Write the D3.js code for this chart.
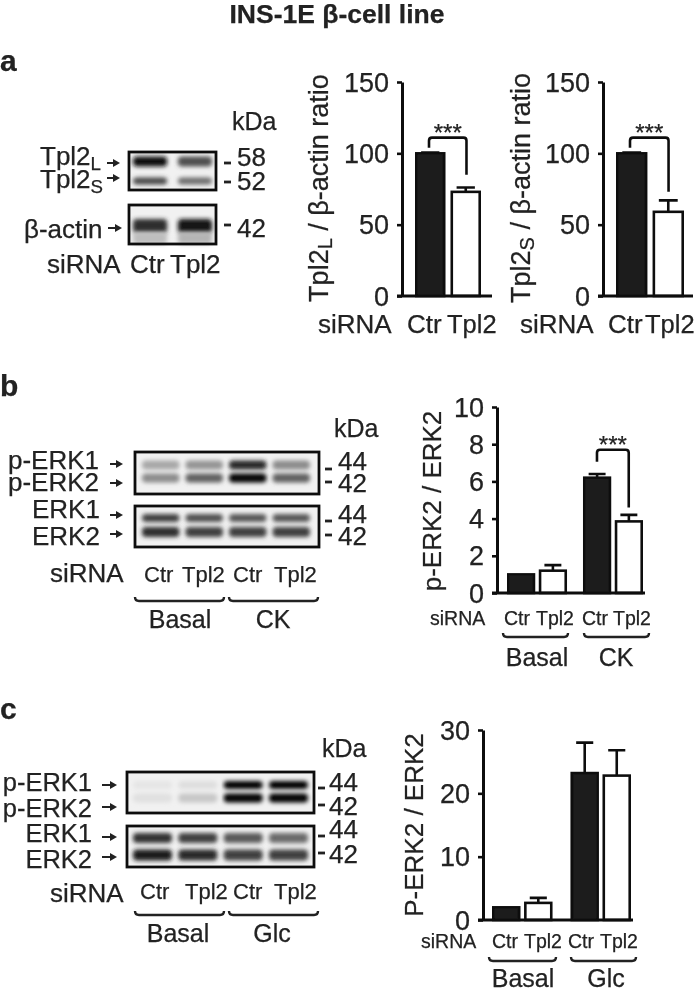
<!DOCTYPE html>
<html>
<head>
<meta charset="utf-8">
<script src="https://d3js.org/d3.v7.min.js"></script>
<style>
  body { margin: 0; background: #fff; }
  text { font-family: "Liberation Sans", Arial, sans-serif; fill: #222; stroke: #222; stroke-width: 0.25px; }
</style>
</head>
<body>
<div id="chart-container"></div>
<script>
// Bar chart data
const singleCats = ["Ctr", "Tpl2"];
const groupCats = ["Ctr", "Tpl2"];
const groupsB = ["Basal", "CK"];
const groupsC = ["Basal", "Glc"];
const tpl2LValues = [100, 73];
const tpl2LErrors = [0.6, 3];
const tpl2SValues = [100, 59];
const tpl2SErrors = [0.6, 8];
const perkCkValues = [[1, 1.2], [6.2, 3.85]];
const perkCkErrors = [[0, 0.3], [0.2, 0.35]];
const perkGlcValues = [[2, 2.7], [23.2, 22.8]];
const perkGlcErrors = [[0, 0.8], [4.8, 4]];
const ticksA = [0, 50, 100, 150];
const ticksB = [0, 2, 4, 6, 8, 10];
const ticksC = [0, 10, 20, 30];

// Blot band intensities (0-1), one row per band, one column per lane
const tpl2Lanes = ["Ctr", "Tpl2"];
const blotLanes = ["Ctr1", "Tpl21", "Ctr2", "Tpl22"];
const tpl2Bands = [[0.95, 0.68], [0.72, 0.55]];
const actinBands = [[0.82, 0.92], [0.2, 0.24]];
const pErkCkBands = [[0.3, 0.38, 0.85, 0.42], [0.42, 0.6, 1, 0.6]];
const erkCkBands = [[0.75, 0.68, 0.65, 0.65], [0.82, 0.75, 0.75, 0.75]];
const pErkGlcBands = [[0.03, 0.06, 1, 1], [0.05, 0.16, 1, 1]];
const erkGlcBands = [[0.8, 0.74, 0.64, 0.56], [0.9, 0.84, 0.75, 0.75]];

const svg = d3.select("#chart-container").append("svg")
  .attr("width", 696).attr("height", 993);

const defs = svg.append("defs");
defs.append("filter").attr("id", "soft").attr("x", 0).attr("y", 0).attr("width", 1).attr("height", 1)
  .append("feGaussianBlur").attr("stdDeviation", 0.6);
defs.append("filter").attr("id", "bandblur").attr("x", "-30%").attr("y", "-80%").attr("width", "160%").attr("height", "260%")
  .append("feGaussianBlur").attr("stdDeviation", 2.1);

const root = svg.append("g").attr("filter", "url(#soft)");
root.append("rect").attr("width", 696).attr("height", 993).attr("fill", "#fff");

function label(x, y, str, size, anchor, weight) {
  return root.append("text").attr("x", x).attr("y", y)
    .attr("text-anchor", anchor || "start")
    .attr("font-weight", weight || "normal")
    .style("font-size", size + "px").text(str);
}

// label with a subscript, e.g. Tpl2 + L
function subLabel(x, y, main, sub, size) {
  const t = root.append("text").attr("x", x).attr("y", y).style("font-size", size + "px");
  t.append("tspan").text(main);
  t.append("tspan").attr("dy", 5).style("font-size", (size * 0.72) + "px").text(sub);
  return t;
}

function arrow(x0, x1, y) {
  root.append("path")
    .attr("d", `M${x0},${y}H${x1 - 5}`)
    .attr("stroke", "#222").attr("stroke-width", 2).attr("fill", "none");
  root.append("path")
    .attr("d", `M${x1},${y}L${x1 - 7},${y - 4}V${y + 4}Z`).attr("fill", "#222");
}

function dash(x0, x1, y) {
  root.append("path").attr("d", `M${x0},${y}H${x1}`)
    .attr("stroke", "#222").attr("stroke-width", 2.8);
}

// curly-ish group brace under lane labels
function brace(x0, x1, y) {
  root.append("path")
    .attr("d", `M${x0},${y - 4}Q${x0},${y} ${x0 + 4},${y}H${x1 - 4}Q${x1},${y} ${x1},${y - 4}`)
    .attr("fill", "none").attr("stroke", "#222").attr("stroke-width", 2.4);
}

// Western blot panel: blurred bands inside a black frame
function blot(box, lanes, laneRange, kDa, kDaRange, rows, bandHeight) {
  const g = root.append("g");
  g.append("rect").attr("x", box[0]).attr("y", box[1])
    .attr("width", box[2] - box[0]).attr("height", box[3] - box[1]).attr("fill", "#f1f1f1");
  const x = d3.scaleBand().domain(lanes).range(laneRange).paddingInner(lanes.length === 2 ? 0.24 : 0.14);
  const y = d3.scaleLinear().domain(kDa).range(kDaRange);
  const shade = d3.scaleLinear().domain([0, 1]).range(["#ececec", "#050505"]);
  rows.forEach((row, r) => {
    g.append("g").attr("filter", "url(#bandblur)").selectAll("rect")
      .data(row).enter().append("rect")
      .attr("x", (d, i) => x(lanes[i]))
      .attr("width", x.bandwidth())
      .attr("y", y(kDa[r]) - bandHeight[r] / 2)
      .attr("height", bandHeight[r])
      .attr("rx", 4)
      .attr("fill", d => shade(d));
  });
  g.append("rect").attr("x", box[0]).attr("y", box[1])
    .attr("width", box[2] - box[0]).attr("height", box[3] - box[1])
    .attr("fill", "none").attr("stroke", "#111").attr("stroke-width", 2.8);
}

function yAxis(x0, yScale, ticks, endX, size) {
  const ax = root.append("g").attr("transform", `translate(${x0},0)`)
    .call(d3.axisLeft(yScale).tickValues(ticks).tickSize(5).tickSizeOuter(0).tickPadding(8));
  ax.select(".domain").attr("stroke", "#111").attr("stroke-width", 3);
  ax.selectAll(".tick line").attr("stroke", "#111").attr("stroke-width", 2.6);
  ax.selectAll(".tick text").style("font-size", size + "px").attr("dy", "0.34em");
  root.append("path").attr("d", `M${x0 - 5},${yScale(0)}H${endX}`)
    .attr("stroke", "#111").attr("stroke-width", 3);
}

function bar(xPos, width, value, err, yScale, fill) {
  const cx = xPos + width / 2;
  const capW = width * 0.3;
  if (err > 0) {
    root.append("path")
      .attr("d", `M${cx},${yScale(value)}V${yScale(value + err)}M${cx - capW},${yScale(value + err)}H${cx + capW}`)
      .attr("stroke", "#111").attr("stroke-width", 2.6).attr("fill", "none");
  }
  root.append("rect")
    .attr("x", xPos + 1.3).attr("width", width - 2.6)
    .attr("y", yScale(value)).attr("height", yScale(0) - yScale(value))
    .attr("fill", fill).attr("stroke", "#111").attr("stroke-width", 2.6);
}

function sigBracket(x0, x1, yTop, yLeft, yRight) {
  root.append("path")
    .attr("d", `M${x0},${yLeft}V${yTop + 3}Q${x0},${yTop} ${x0 + 3},${yTop}H${x1 - 3}Q${x1},${yTop} ${x1},${yTop + 3}V${yRight}`)
    .attr("fill", "none").attr("stroke", "#111").attr("stroke-width", 2.6);
  label((x0 + x1) / 2, yTop + 3, "***", 24, "middle");
}

// ---- title and panel letters
label(337, 23, "INS-1E β-cell line", 26.5, "middle", "bold");
label(0, 71, "a", 30, "start", "bold");
label(0, 396, "b", 30, "start", "bold");
label(0, 719, "c", 30, "start", "bold");

// ---- panel a, blots
label(232, 130, "kDa", 25);
blot([129, 152, 216, 190], tpl2Lanes, [133, 212], [58, 52], [161.5, 181], tpl2Bands, [10, 7]);
blot([129, 205, 216, 244], tpl2Lanes, [133, 212], [42, 38], [226, 238], actinBands, [14, 12]);
subLabel(40, 165, "Tpl2", "L", 26);
subLabel(40, 188, "Tpl2", "S", 26);
arrow(107, 120, 163);
arrow(107, 120, 178);
label(24, 238, "β-actin", 26);
arrow(108, 122, 228);
label(47, 273, "siRNA", 26);
label(130, 273, "Ctr", 26);
label(170, 273, "Tpl2", 26);
dash(224, 231, 163); dash(224, 231, 182); dash(224, 231, 225);
label(237, 166, "58", 26); label(237, 190, "52", 26); label(237, 237, "42", 26);

// ---- panel a, bar charts
function singleChart(axisX, x0, x1, endX, values, errors, titleX, subLetter, bracketVals, labelX, tplX) {
  const y = d3.scaleLinear().domain([0, 150]).range([296, 82]);
  const x = d3.scaleBand().domain(singleCats).range([x0, x1]).paddingInner(0.14);
  values.forEach((v, i) => bar(x(singleCats[i]), x.bandwidth(), v, errors[i], y, i === 0 ? "#1a1a1a" : "#fff"));
  yAxis(axisX, y, ticksA, endX, 27);
  sigBracket(x(singleCats[0]) + 14, x(singleCats[1]) + 16, y(bracketVals[0]), y(bracketVals[1]), y(bracketVals[2]));
  const t = root.append("text").attr("transform", `translate(${titleX},188) rotate(-90)`)
    .attr("text-anchor", "middle").style("font-size", "27px");
  t.append("tspan").text("Tpl2");
  t.append("tspan").attr("dy", 4).style("font-size", "20px").text(subLetter);
  t.append("tspan").attr("dy", -4).text(" / β-actin ratio");
  label(labelX, 333, "siRNA", 26);
  label(x(singleCats[0]) - 8, 333, "Ctr", 26);
  label(tplX, 333, "Tpl2", 25.5);
}
singleChart(402, 415, 481, 492, tpl2LValues, tpl2LErrors, 328, "L", [111, 104, 85], 318, 447);
singleChart(603, 616, 684, 693, tpl2SValues, tpl2SErrors, 530, "S", [111, 104, 73], 520, 645);

// ---- panels b and c, grouped bar charts
function groupChart(opts) {
  const y = d3.scaleLinear().domain(opts.domain).range(opts.yRange);
  const outer = d3.scaleBand().domain(opts.groups).range(opts.xRange).paddingInner(opts.gap);
  const inner = d3.scaleBand().domain(groupCats).range([0, outer.bandwidth()]).paddingInner(0.11);
  opts.groups.forEach((g, gi) => {
    groupCats.forEach((c, ci) => {
      bar(outer(g) + inner(c), inner.bandwidth(), opts.values[gi][ci], opts.errors[gi][ci], y, ci === 0 ? "#1a1a1a" : "#fff");
      label(opts.labelX[gi][ci], opts.labelY, c, 19.5);
    });
    brace(opts.braceX[gi][0], opts.braceX[gi][1], opts.braceY);
    label(opts.groupX[gi], opts.groupY, g, 25, "middle");
  });
  yAxis(opts.axisX, y, opts.ticks, opts.endX, 27);
  root.append("text").attr("transform", `translate(${opts.titleX},${opts.titleY}) rotate(-90)`)
    .attr("text-anchor", "middle").style("font-size", "26px").text(opts.title);
  label(opts.sirnaX, opts.labelY, "siRNA", 19.5);
  return { y, outer, inner };
}

// panel b
const chartB = groupChart({
  domain: [0, 10], yRange: [593, 407], xRange: [507, 643], gap: 0.21, groups: groupsB,
  values: perkCkValues, errors: perkCkErrors, ticks: ticksB, axisX: 497, endX: 645,
  labelY: 625, braceY: 637, groupY: 666, title: "p-ERK2 / ERK2", titleX: 441, titleY: 501, sirnaX: 430,
  labelX: [[504, 536], [582, 613]], braceX: [[503, 568], [584, 649]], groupX: [537, 616]
});
const ckX = chartB.outer("CK");
sigBracket(ckX + 14, ckX + chartB.inner("Tpl2") + 14, chartB.y(7.7), chartB.y(7.05), chartB.y(4.6));

label(334, 437, "kDa", 25);
blot([135, 452, 319, 494], blotLanes, [142, 310], [44, 42], [465, 478], pErkCkBands, [9, 9]);
blot([135, 506, 319, 547], blotLanes, [142, 310], [44, 42], [518, 532], erkCkBands, [8, 10]);
label(8, 469, "p-ERK1", 26); label(8, 491, "p-ERK2", 26);
label(32, 518, "ERK1", 26); label(32, 545, "ERK2", 26);
arrow(110, 123, 464); arrow(110, 123, 483); arrow(110, 123, 515); arrow(110, 123, 534);
dash(325, 332, 469); dash(325, 332, 482); dash(325, 332, 521); dash(325, 332, 535);
label(338, 470, "44", 26); label(338, 492, "42", 26);
label(338, 523, "44", 26); label(338, 545, "42", 26);
label(50, 582, "siRNA", 26);
label(144, 582, "Ctr", 22); label(182, 582, "Tpl2", 22);
label(233, 582, "Ctr", 22); label(274, 582, "Tpl2", 22);
brace(135, 224, 601); brace(229, 318, 601);
label(180, 628, "Basal", 25, "middle"); label(273, 628, "CK", 25, "middle");

// panel c
groupChart({
  domain: [0, 30], yRange: [920, 730], xRange: [492, 631], gap: 0.228, groups: groupsC,
  values: perkGlcValues, errors: perkGlcErrors, ticks: ticksC, axisX: 483, endX: 633,
  labelY: 948, braceY: 961, groupY: 987, title: "P-ERK2 / ERK2", titleX: 423, titleY: 825, sirnaX: 421,
  labelX: [[492, 524], [568, 600]], braceX: [[489, 556], [571, 636]], groupX: [523, 606]
});

label(322, 757, "kDa", 25);
blot([127, 772, 314, 813], blotLanes, [133, 308], [44, 42], [785, 798], pErkGlcBands, [8, 9]);
blot([127, 826, 314, 867], blotLanes, [133, 308], [44, 42], [838, 855], erkGlcBands, [10, 11]);
label(92, 791, "p-ERK1", 25.5, "end"); label(92, 817, "p-ERK2", 25.5, "end");
label(92, 842, "ERK1", 25.5, "end"); label(92, 868, "ERK2", 25.5, "end");
arrow(102, 117, 785); arrow(102, 117, 807); arrow(102, 117, 837); arrow(102, 117, 857);
dash(318, 325, 788); dash(318, 325, 805); dash(318, 325, 836); dash(318, 325, 853);
label(329, 791, "44", 26); label(329, 815, "42", 26);
label(329, 838, "44", 26); label(329, 863, "42", 26);
label(50, 902, "siRNA", 26);
label(140, 899, "Ctr", 22); label(185, 899, "Tpl2", 22);
label(233, 899, "Ctr", 22); label(274, 899, "Tpl2", 22);
brace(135, 224, 915); brace(229, 318, 915);
label(178, 942, "Basal", 25, "middle"); label(272, 942, "Glc", 25, "middle");
</script>
</body>
</html>
